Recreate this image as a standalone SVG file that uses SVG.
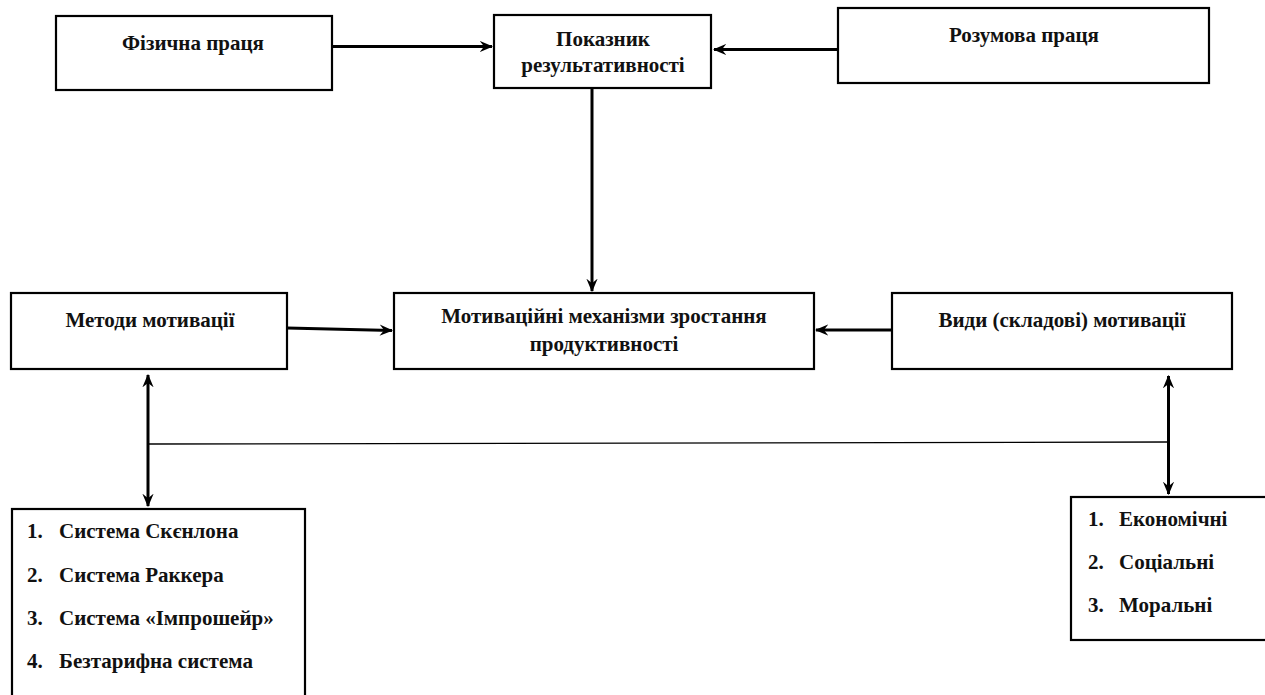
<svg xmlns="http://www.w3.org/2000/svg" width="1265" height="695" viewBox="0 0 1265 695">
<defs>
<marker id="ah" viewBox="0 0 12 10" refX="11" refY="5" markerWidth="4.5" markerHeight="4" orient="auto-start-reverse" markerUnits="strokeWidth">
<path d="M0,0 L12,5 L0,10 L4,5 z" fill="#000"/>
</marker>
</defs>
<rect width="1265" height="695" fill="#fff"/>
<g id="connectors" stroke="#000" stroke-width="3" fill="none">
<line x1="332" y1="46.5" x2="492" y2="46.5" marker-end="url(#ah)"/>
<line x1="838" y1="49.5" x2="714" y2="49.5" marker-end="url(#ah)"/>
<line x1="592" y1="88" x2="592" y2="291" marker-end="url(#ah)"/>
<line x1="287" y1="328" x2="392" y2="330.5" marker-end="url(#ah)"/>
<line x1="892" y1="330" x2="816" y2="330" marker-end="url(#ah)"/>
<line x1="148" y1="375" x2="148" y2="506" marker-start="url(#ah)" marker-end="url(#ah)"/>
<line x1="1168.5" y1="376" x2="1168.5" y2="494" marker-start="url(#ah)" marker-end="url(#ah)"/>
<line x1="148" y1="444" x2="1168.5" y2="442" stroke-width="1.3"/>
</g>
<g id="nodes" font-family="Liberation Serif" font-weight="bold" font-size="21" fill="#111">
<g id="fizychna">
<rect x="56" y="16" width="276" height="74" fill="#fff" stroke="#000" stroke-width="2.2"/>
<text x="193" y="50" text-anchor="middle">Фізична праця</text>
</g>
<g id="pokaznyk">
<rect x="494" y="15" width="217" height="73" fill="#fff" stroke="#000" stroke-width="2.2"/>
<text x="603" y="46" text-anchor="middle">Показник</text>
<text x="603" y="72" text-anchor="middle">результативності</text>
</g>
<g id="rozumova">
<rect x="838" y="8" width="371" height="75" fill="#fff" stroke="#000" stroke-width="2.2"/>
<text x="1024" y="42" text-anchor="middle">Розумова праця</text>
</g>
<g id="metody">
<rect x="11" y="293" width="276" height="76" fill="#fff" stroke="#000" stroke-width="2.2"/>
<text x="150" y="327" text-anchor="middle">Методи мотивації</text>
</g>
<g id="mekhanizmy">
<rect x="394" y="293" width="420" height="76" fill="#fff" stroke="#000" stroke-width="2.2"/>
<text x="604" y="323" text-anchor="middle">Мотиваційні механізми зростання</text>
<text x="604" y="351" text-anchor="middle">продуктивності</text>
</g>
<g id="vydy">
<rect x="892" y="293" width="340" height="76" fill="#fff" stroke="#000" stroke-width="2.2"/>
<text x="1062" y="327" text-anchor="middle">Види (складові) мотивації</text>
</g>
<g id="systemy">
<rect x="12" y="509" width="293" height="200" fill="#fff" stroke="#000" stroke-width="2.2"/>
<text x="27" y="538">1.</text><text x="59" y="538">Система Скєнлона</text>
<text x="27" y="582">2.</text><text x="59" y="582">Система Раккера</text>
<text x="27" y="625">3.</text><text x="59" y="625">Система «Імпрошейр»</text>
<text x="27" y="668">4.</text><text x="59" y="668">Безтарифна система</text>
</g>
<g id="vydy-list">
<rect x="1071" y="497" width="210" height="143" fill="#fff" stroke="#000" stroke-width="2.2"/>
<text x="1088" y="526">1.</text><text x="1119" y="526">Економічні</text>
<text x="1088" y="569">2.</text><text x="1119" y="569">Соціальні</text>
<text x="1088" y="612">3.</text><text x="1119" y="612">Моральні</text>
</g>
</g>
</svg>
